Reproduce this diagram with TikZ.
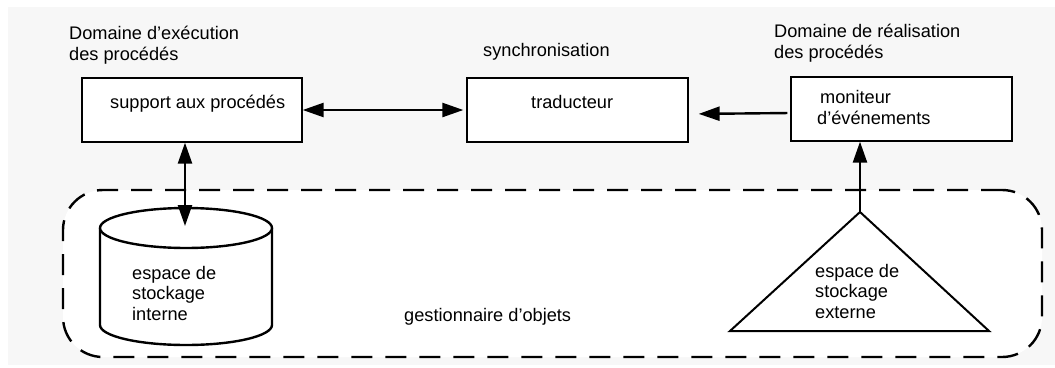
\documentclass[tikz,border=0pt]{standalone}
\usepackage{fontspec}
\setmainfont{Liberation Sans}
\usetikzlibrary{arrows.meta,positioning}
\definecolor{fond}{HTML}{F7F7F7}

\tikzset{
  lbl/.style={anchor=base west,inner sep=0pt,align=left,font=\fontsize{18.2}{20.5}\selectfont},
  box/.style={draw,line width=1.3pt,fill=white,inner sep=0pt},
  trait/.style={line width=2.4pt},
  tip/.tip={Triangle[length=21pt,width=14pt]},
  link/.style={trait,-tip},
  dlink/.style={trait,tip-tip}
}

\begin{document}
\begin{tikzpicture}[x=1pt,y=-1pt]
\useasboundingbox (0,0) rectangle (1055,367);
\fill[fond] (8,7) rectangle (1055,365);

\node[draw,trait,dash pattern=on 21pt off 13pt,rounded corners=40pt,fill=white,
  minimum width=979pt,minimum height=167pt] (objets) at (552.5,273.5) {};
\node[lbl] (objetstxt) at (404,321) {gestionnaire d’objets};

\node[box,minimum width=220pt,minimum height=64pt] (support) at (192,110) {};
\node[box,minimum width=221pt,minimum height=64pt] (traducteur) at (577.5,110) {};
\node[box,minimum width=221pt,minimum height=64pt] (moniteur) at (901.5,109) {};

\node[lbl] (dexec) at (69,60) {Domaine d’exécution\\des procédés};
\node[lbl] (synchro) at (483,56) {synchronisation};
\node[lbl] (dreal) at (774,58) {Domaine de réalisation\\des procédés};
\node[lbl] (supporttxt) at (110,108) {support aux procédés};
\node[lbl] (traducteurtxt) at (531,108) {traducteur};
\node[lbl] (moniteurtxt) at (817,124) {\hspace{3pt}moniteur\\d’événements};

\draw[trait,fill=white] (100,228) -- (100,325) arc[start angle=180,end angle=360,x radius=86pt,y radius=20pt] -- (272,228);
\draw[trait,fill=white] (186,228) ellipse[x radius=86pt,y radius=20pt];
\coordinate (interne) at (185,226);
\node[lbl] (internetxt) at (132,320) {espace de\\stockage\\interne};

\draw[line width=2pt,line join=miter] (730,331) -- (860,212) -- (989,331) -- cycle;
\coordinate (externe) at (860,212);
\node[lbl] (externetxt) at (815,318) {espace de\\stockage\\externe};

\draw[dlink,shorten >=3pt] (support) -- (traducteur);
\draw[link,shorten <=3pt,shorten >=10pt] ([yshift=-4pt]moniteur.west) -- ([yshift=-4pt]traducteur.east);
\draw[dlink] (interne) -- (interne |- support.south);
\draw[link] (externe) -- (externe |- moniteur.south);
\end{tikzpicture}
\end{document}
